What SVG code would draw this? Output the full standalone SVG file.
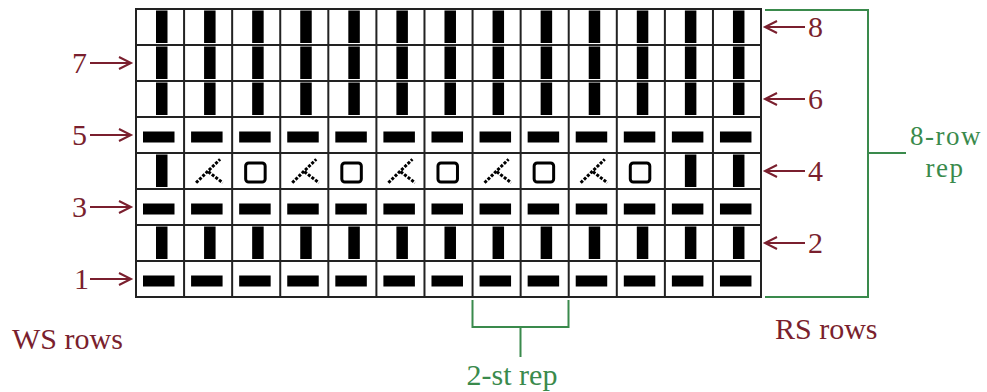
<svg xmlns="http://www.w3.org/2000/svg" xmlns:xlink="http://www.w3.org/1999/xlink" width="987" height="392" viewBox="0 0 987 392">
<style>
.lbl{font-family:"Liberation Serif","Times New Roman",serif;font-size:30px;fill:#7a1f2e}
.grn{font-family:"Liberation Serif","Times New Roman",serif;font-size:30px;fill:#3a8a4c}
.sm{font-size:27px;letter-spacing:1.5px}
.arr{fill:none;stroke:#7a1f2e;stroke-width:2}
.brk{fill:none;stroke:#3a8a4c;stroke-width:2}
.grid{fill:none;stroke:#222;stroke-width:2}
.blk{fill:#000}
</style>
<defs>
<rect id="vbar" x="20" y="1.5" width="11.5" height="32.5" class="blk"/>
<rect id="hbar" x="7" y="14.5" width="31.5" height="11" class="blk"/>
<rect id="yo" x="13.5" y="10" width="19.5" height="19" rx="3" fill="none" stroke="#000" stroke-width="3"/>
<path id="k2" d="M12 29.7 L36 6.3 M24.2 18.7 L38.6 29.7" fill="none" stroke="#000" stroke-width="3" stroke-dasharray="3 1.5"/>
<g id="rowV">
<use xlink:href="#vbar" x="136"/><use xlink:href="#vbar" x="184.08"/><use xlink:href="#vbar" x="232.16"/><use xlink:href="#vbar" x="280.24"/><use xlink:href="#vbar" x="328.32"/><use xlink:href="#vbar" x="376.4"/><use xlink:href="#vbar" x="424.48"/><use xlink:href="#vbar" x="472.56"/><use xlink:href="#vbar" x="520.64"/><use xlink:href="#vbar" x="568.72"/><use xlink:href="#vbar" x="616.8"/><use xlink:href="#vbar" x="664.88"/><use xlink:href="#vbar" x="712.96"/>
</g>
<g id="rowH">
<use xlink:href="#hbar" x="136"/><use xlink:href="#hbar" x="184.08"/><use xlink:href="#hbar" x="232.16"/><use xlink:href="#hbar" x="280.24"/><use xlink:href="#hbar" x="328.32"/><use xlink:href="#hbar" x="376.4"/><use xlink:href="#hbar" x="424.48"/><use xlink:href="#hbar" x="472.56"/><use xlink:href="#hbar" x="520.64"/><use xlink:href="#hbar" x="568.72"/><use xlink:href="#hbar" x="616.8"/><use xlink:href="#hbar" x="664.88"/><use xlink:href="#hbar" x="712.96"/>
</g>
</defs>
<rect width="987" height="392" fill="#fff"/>
<g id="chart">
<rect x="136" y="9" width="625" height="288" fill="#fff"/>
<use xlink:href="#rowV" y="9"/>
<use xlink:href="#rowV" y="45"/>
<use xlink:href="#rowV" y="81"/>
<use xlink:href="#rowH" y="117"/>
<g id="row4">
<use xlink:href="#vbar" x="136" y="153"/>
<use xlink:href="#k2" x="184.08" y="153"/>
<use xlink:href="#yo" x="232.16" y="153"/>
<use xlink:href="#k2" x="280.24" y="153"/>
<use xlink:href="#yo" x="328.32" y="153"/>
<use xlink:href="#k2" x="376.4" y="153"/>
<use xlink:href="#yo" x="424.48" y="153"/>
<use xlink:href="#k2" x="472.56" y="153"/>
<use xlink:href="#yo" x="520.64" y="153"/>
<use xlink:href="#k2" x="568.72" y="153"/>
<use xlink:href="#yo" x="616.8" y="153"/>
<use xlink:href="#vbar" x="664.88" y="153"/>
<use xlink:href="#vbar" x="712.96" y="153"/>
</g>
<use xlink:href="#rowH" y="189"/>
<use xlink:href="#rowV" y="225"/>
<use xlink:href="#rowH" y="261"/>
<path class="grid" d="M184.08 9V297M232.16 9V297M280.24 9V297M328.32 9V297M376.4 9V297M424.48 9V297M472.56 9V297M520.64 9V297M568.72 9V297M616.8 9V297M664.88 9V297M712.96 9V297M136 45H761M136 81H761M136 117H761M136 153H761M136 189H761M136 225H761M136 261H761"/>
<rect class="grid" x="136" y="9" width="625" height="288"/>
</g>
<g id="connectors">
<path class="arr" d="M90 63H131M119 57L131 63L119 69"/>
<path class="arr" d="M90 135H131M119 129L131 135L119 141"/>
<path class="arr" d="M90 207H131M119 201L131 207L119 213"/>
<path class="arr" d="M90 279H131M119 273L131 279L119 285"/>
<path class="arr" d="M805 27H765M777 21L765 27L777 33"/>
<path class="arr" d="M805 99H765M777 93L765 99L777 105"/>
<path class="arr" d="M805 171H765M777 165L765 171L777 177"/>
<path class="arr" d="M805 243H765M777 237L765 243L777 249"/>
<path class="brk" d="M765 10H868V297H765M868 153H906"/>
<path class="brk" d="M472.5 300V327H568.5V300M520.5 327V357"/>
</g>
<g id="labels">
<text class="lbl" x="87" y="73" text-anchor="end">7</text>
<text class="lbl" x="87" y="145" text-anchor="end">5</text>
<text class="lbl" x="87" y="217" text-anchor="end">3</text>
<text class="lbl" x="89" y="289" text-anchor="end">1</text>
<text class="lbl" x="808" y="37">8</text>
<text class="lbl" x="808" y="109">6</text>
<text class="lbl" x="808" y="181">4</text>
<text class="lbl" x="808" y="253">2</text>
<text class="lbl" x="12" y="349">WS rows</text>
<text class="lbl" x="775" y="339">RS rows</text>
<text class="grn sm" x="946" y="145" text-anchor="middle">8-row</text>
<text class="grn sm" x="945" y="177" text-anchor="middle">rep</text>
<text class="grn" x="512" y="385" text-anchor="middle">2-st rep</text>
</g>
</svg>
